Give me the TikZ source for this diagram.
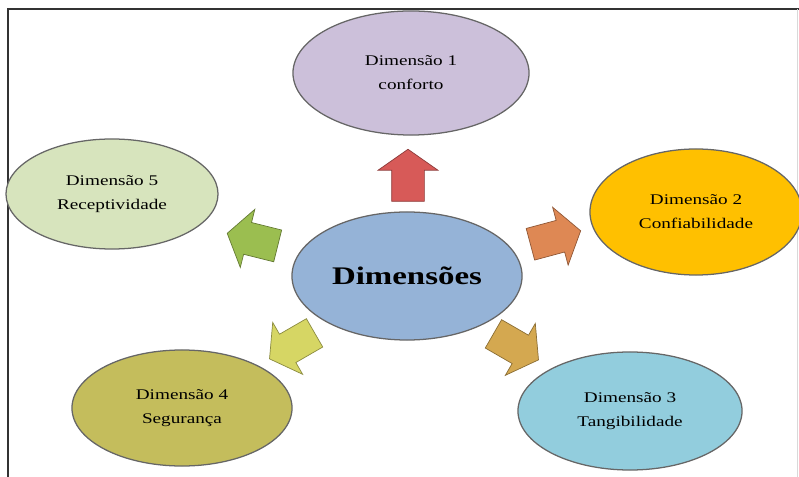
\documentclass[tikz,border=0pt]{standalone}
\usepackage{fontspec}
\setmainfont{Liberation Serif}[FakeStretch=1.3]
\usetikzlibrary{shapes.geometric,shapes.arrows}

\definecolor{lilas}{RGB}{204,192,218}
\definecolor{ouro}{RGB}{255,192,0}
\definecolor{ceu}{RGB}{146,205,221}
\definecolor{oliva}{RGB}{196,189,92}
\definecolor{verdec}{RGB}{215,228,189}
\definecolor{azulc}{RGB}{149,179,215}
\definecolor{sverm}{RGB}{215,90,88}
\definecolor{slaran}{RGB}{222,136,84}
\definecolor{sverde}{RGB}{155,190,80}
\definecolor{samar}{RGB}{214,214,100}
\definecolor{sdour}{RGB}{212,168,80}

\begin{document}
\begin{tikzpicture}[
    x=0.025cm, y=-0.025cm,
    font=\fontsize{10.5}{17}\selectfont,
    dim/.style={ellipse, draw=black!60, line width=0.9pt, align=center, inner sep=0pt},
    seta/.style={single arrow, draw=#1!65!black, fill=#1, line width=0.5pt,
                 minimum height=1.3cm, inner xsep=0pt, inner ysep=0.4cm,
                 single arrow head extend=0.34cm, single arrow tip angle=110},
]
\useasboundingbox (0,0) rectangle (799,477);
% --- frame ---
\draw[line width=0.9pt, black!80] (8,477) -- (8,9) -- (799,9);
\draw[black!15] (797,9) -- (797,477);
% --- centre ---
\node[dim, fill=azulc, minimum width=5.75cm, minimum height=3.2cm] (hub) at (407,276)
  {\fontsize{18}{20}\selectfont\bfseries Dimensões};
% --- the five dimensions ---
\node[dim, fill=lilas, minimum width=5.9cm, minimum height=3.1cm] (d1) at (411,73) {Dimensão 1\\conforto};
\node[dim, fill=ouro, minimum width=5.3cm, minimum height=3.15cm] (d2) at (696,212) {Dimensão 2\\Confiabilidade};
\node[dim, fill=ceu, minimum width=5.6cm, minimum height=2.95cm] (d3) at (630,411) {Dimensão 3\\Tangibilidade};
\node[dim, fill=oliva, minimum width=5.5cm, minimum height=2.9cm] (d4) at (182,408) {Dimensão 4\\Segurança};
\node[dim, fill=verdec, minimum width=5.3cm, minimum height=2.75cm] (d5) at (112,194) {Dimensão 5\\Receptividade};
% --- block arrows ---
\foreach \nm/\px/\py/\ang/\cor in {s1/408/181/90/sverm, s2/550/239/15/slaran,
    s3/511/344/-30/sdour, s4/297/343/210/samar, s5/258/241/166/sverde}{
  \node[seta=\cor, rotate=\ang] (\nm) at (\px,\py) {};
}
\end{tikzpicture}
\end{document}
